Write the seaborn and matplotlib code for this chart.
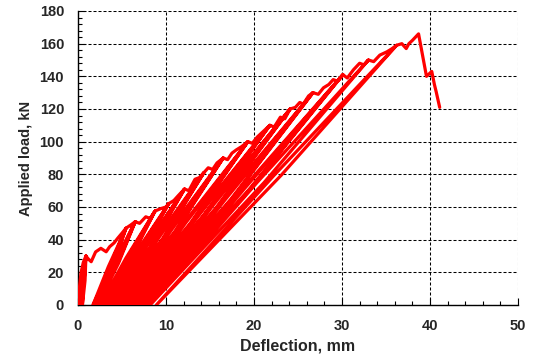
import numpy as np
import pandas as pd
import matplotlib
matplotlib.use("Agg")
import matplotlib.pyplot as plt
import seaborn as sns
from matplotlib.ticker import MultipleLocator

# ---- data ----
envelope_defl = [0, 0.15, 0.35, 0.6, 0.9, 1.2, 1.5, 2.0, 2.6, 3.2, 3.6, 4.1, 4.5, 5.0, 5.45,
                 6.0, 6.5, 7.0, 7.7, 8.2, 8.75, 9.4, 10.0, 10.3, 10.9, 11.4, 12.1, 12.6, 13.3,
                 13.8, 14.3, 14.8, 15.3, 15.8, 16.5, 17.0, 17.5, 18.0, 18.6, 19.3, 19.8, 20.4,
                 21.0, 21.8, 22.3, 23.0, 23.5, 24.1, 24.7, 25.2, 25.6, 26.2, 26.7, 27.3, 27.9,
                 28.5, 29.0, 29.5, 30.1, 30.6, 31.3, 32.0, 32.5, 33.0, 33.6, 34.3, 35.1, 35.7,
                 36.2, 36.8, 37.3, 37.6, 38.0, 38.7, 39.6, 40.2, 40.5, 40.7, 41.1]
envelope_load = [0, 10, 20, 26, 30, 28, 26.5, 32.5, 34.7, 32.6, 35.7, 38, 40.8, 44, 47,
                 49, 51, 50, 54, 53, 57.5, 59, 60, 62, 64, 67, 71, 70, 77,
                 78, 81, 84, 83, 87, 90, 89, 93, 95, 97, 100, 99, 103,
                 106, 110, 109, 115, 114, 120, 121, 124, 123, 128, 130, 129, 133,
                 135, 138, 137, 141, 139, 144, 148, 147, 150, 149, 153, 155, 157,
                 159, 160, 157, 160, 162, 166, 140, 143, 135, 130.6, 121]

# first unloading / reloading loop at each peak
cycle_peak_defl = [0.9, 5.45, 6.5, 8.75, 10.3, 12.1, 14.3, 16.5, 19.3, 21.8,
                   24.1, 26.7, 30.1, 33.0, 36.2]
residual_defl = [0.3, 1.7, 2.0, 2.5, 3.0, 3.5, 4.0, 4.6, 5.2, 5.8,
                 6.4, 7.0, 7.6, 8.2, 8.9]
unload_mid_defl = [0.7, 3.85, 4.5, 5.95, 7.0, 8.2, 9.6, 11.0, 12.75, 14.3,
                   15.75, 17.4, 19.4, 21.15, 23.1]
reload_mid_defl = [0.55, 3.45, 4.1, 5.45, 6.45, 7.6, 8.9, 10.3, 12.0, 13.55,
                   15.0, 16.6, 18.6, 20.35, 22.3]

# repeated loop at the same load level
repeat_peak_defl = [0.9, 5.45, 6.5, 8.75, 10.3, 12.1, 14.3, 16.5, 19.3, 21.8, 24.1, 26.7, 30.1]
repeat_residual_defl = [0.5, 1.95, 2.25, 2.75, 3.25, 3.75, 4.3, 4.9, 5.5, 6.1, 6.7, 7.3, 7.9]
repeat_unload_mid_defl = [0.8, 3.95, 4.6, 6.05, 7.1, 8.3, 9.7, 11.1, 12.85, 14.4, 15.85, 17.5, 19.5]
repeat_reload_mid_defl = [0.65, 3.6, 4.25, 5.6, 6.6, 7.75, 9.1, 10.5, 12.2, 13.75, 15.2, 16.8, 18.8]

# ---- build the load path in test order ----
path_x, path_y = [], []
for d, p in zip(envelope_defl, envelope_load):
    path_x.append(d)
    path_y.append(p)
    if d in cycle_peak_defl:
        k = cycle_peak_defl.index(d)
        path_x += [unload_mid_defl[k], residual_defl[k], reload_mid_defl[k], d]
        path_y += [p / 2, 0, p / 2, p]
    if d in repeat_peak_defl:
        k = repeat_peak_defl.index(d)
        path_x += [repeat_unload_mid_defl[k], repeat_residual_defl[k], repeat_reload_mid_defl[k], d]
        path_y += [p / 2, 0, p / 2, p]

df = pd.DataFrame({"Deflection": path_x, "Load": path_y})

sns.set_theme(style="white")
plt.rcParams["font.family"] = ["Liberation Sans", "DejaVu Sans"]

fig = plt.figure(figsize=(5.36, 3.62), dpi=100)
ax = fig.add_axes([78 / 536, 1 - 305 / 362, 440 / 536, 294 / 362])

sns.lineplot(data=df, x="Deflection", y="Load", sort=False, estimator=None,
             color="#ff0000", linewidth=2.3, ax=ax, zorder=3,
             solid_joinstyle="round", solid_capstyle="round")

ax.set_xlim(0, 50)
ax.set_ylim(0, 180)
ax.xaxis.set_major_locator(MultipleLocator(10))
ax.xaxis.set_minor_locator(MultipleLocator(2))
ax.yaxis.set_major_locator(MultipleLocator(20))
ax.yaxis.set_minor_locator(MultipleLocator(4))

ax.grid(True, which="major", color="black", linestyle=(0, (2.9, 1.9)), linewidth=0.75, zorder=1)
for s in ["top", "right"]:
    ax.spines[s].set_visible(False)
for s in ["left", "bottom"]:
    ax.spines[s].set_color("black")
    ax.spines[s].set_linewidth(1.0)

ax.tick_params(which="both", direction="in", left=True, bottom=True, top=False, right=False,
               color="black")
ax.tick_params(which="major", length=5, width=0.8, pad=10, labelsize=10.5)
ax.tick_params(which="minor", length=3, width=0.8)
for lab in ax.get_xticklabels() + ax.get_yticklabels():
    lab.set_fontweight("bold")

ax.set_xlabel("Deflection, mm", fontsize=11.5, fontweight="bold", labelpad=4)
ax.set_ylabel("Applied load, kN", fontsize=10.5, fontweight="bold", labelpad=5)

fig.savefig("out.png", dpi=100)
